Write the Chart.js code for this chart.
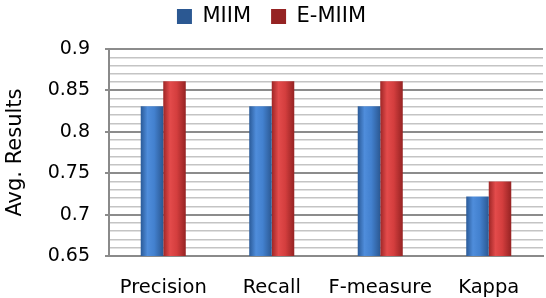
<!DOCTYPE html>
<html>
<head>
<meta charset="utf-8">
<script src="https://cdn.jsdelivr.net/npm/chart.js@4"></script>
<style>
  html, body { margin: 0; padding: 0; background: #fff; }
  #wrap { width: 546px; height: 298px; }
</style>
</head>
<body>
<div id="wrap"><canvas id="chart" width="546" height="298"></canvas></div>
<script>
const categories = ['Precision', 'Recall', 'F-measure', 'Kappa']
const miim = [0.831, 0.831, 0.831, 0.722]
const eMiim = [0.861, 0.861, 0.861, 0.740]
const yLabels = [0.65, 0.7, 0.75, 0.8, 0.85, 0.9]

const CAT_PCT = 0.415

// minor gridlines every 0.01 between the labelled ticks
const yTicks = []
for (let i = 65; i <= 90; i++) yTicks.push(i / 100)
const isMajor = v => yLabels.some(l => Math.abs(l - v) < 1e-6)

function barFill(stops, solid) {
  return (ctx) => {
    if (ctx.type !== 'data') return solid
    const chart = ctx.chart
    const xs = chart.scales.x
    if (!xs || !chart.chartArea) return solid
    const center = xs.getPixelForValue(ctx.dataIndex)
    const groupW = xs.width / categories.length * CAT_PCT
    const barW = groupW / 2
    const left = center - groupW / 2 + ctx.datasetIndex * barW
    const g = chart.ctx.createLinearGradient(left, 0, left + barW, 0)
    stops.forEach(([p, c]) => g.addColorStop(p, c))
    return g
  }
}

const blueStops = [[0, '#2a5a98'], [0.3, '#4f8ddb'], [0.6, '#4381cf'], [1, '#2b5892']]
const redStops = [[0, '#9e2626'], [0.3, '#e34b4b'], [0.6, '#d43e3e'], [1, '#952323']]

// legend sits high with a wide gap below it, like the reference
const legendPlace = {
  id: 'legendPlace',
  afterInit(chart) {
    const fit = chart.legend.fit
    chart.legend.fit = function () {
      fit.call(this)
      this.height = 49
    }
  },
  afterLayout(chart) {
    chart.legend.top -= 14
  }
}

const ctx = document.getElementById('chart').getContext('2d')
new Chart(ctx, {
  type: 'bar',
  data: {
    labels: categories,
    datasets: [
      {
        label: 'MIIM',
        data: miim,
        backgroundColor: barFill(blueStops, '#4381cf'),
        borderWidth: 0
      },
      {
        label: 'E-MIIM',
        data: eMiim,
        backgroundColor: barFill(redStops, '#d43e3e'),
        borderWidth: 0
      }
    ]
  },
  options: {
    responsive: false,
    animation: false,
    layout: { padding: { top: 0, right: 3, bottom: 0, left: 0 } },
    datasets: {
      bar: { categoryPercentage: CAT_PCT, barPercentage: 1 }
    },
    plugins: {
      legend: {
        position: 'top',
        labels: {
          color: '#000',
          font: { family: 'DejaVu Sans', size: 21 },
          boxWidth: 15,
          boxHeight: 15,
          padding: 20
        }
      },
      tooltip: { enabled: false }
    },
    scales: {
      x: {
        grid: { display: false },
        border: { display: true, color: '#8a8a8a', width: 2 },
        ticks: {
          color: '#000',
          font: { family: 'DejaVu Sans', size: 19.5 },
          padding: 12,
          autoSkip: false,
          maxRotation: 0,
          minRotation: 0
        },
        afterFit: (s) => { s.height = 42 }
      },
      y: {
        min: 0.65,
        max: 0.9,
        afterBuildTicks: (s) => { s.ticks = yTicks.map(v => ({ value: v })) },
        border: { display: true, color: '#8a8a8a', width: 2 },
        grid: {
          color: (c) => (c.tick && isMajor(c.tick.value)) ? '#8c8c8c' : '#c4c4c4',
          lineWidth: (c) => (c.tick && isMajor(c.tick.value)) ? 2 : 1.5,
          tickColor: (c) => (c.tick && isMajor(c.tick.value)) ? '#8c8c8c' : 'rgba(0,0,0,0)',
          tickLength: 4
        },
        ticks: {
          autoSkip: false,
          color: '#000',
          font: { family: 'DejaVu Sans', size: 19 },
          padding: 15,
          callback: (v) => isMajor(v) ? String(Math.round(v * 100) / 100) : ''
        },
        title: {
          display: true,
          text: 'Avg. Results',
          color: '#000',
          font: { family: 'DejaVu Sans', size: 21, lineHeight: 1 },
          padding: { top: 5, bottom: 0 }
        },
        afterFit: (s) => { s.width = 109 }
      }
    }
  },
  plugins: [legendPlace]
})
</script>
</body>
</html>
